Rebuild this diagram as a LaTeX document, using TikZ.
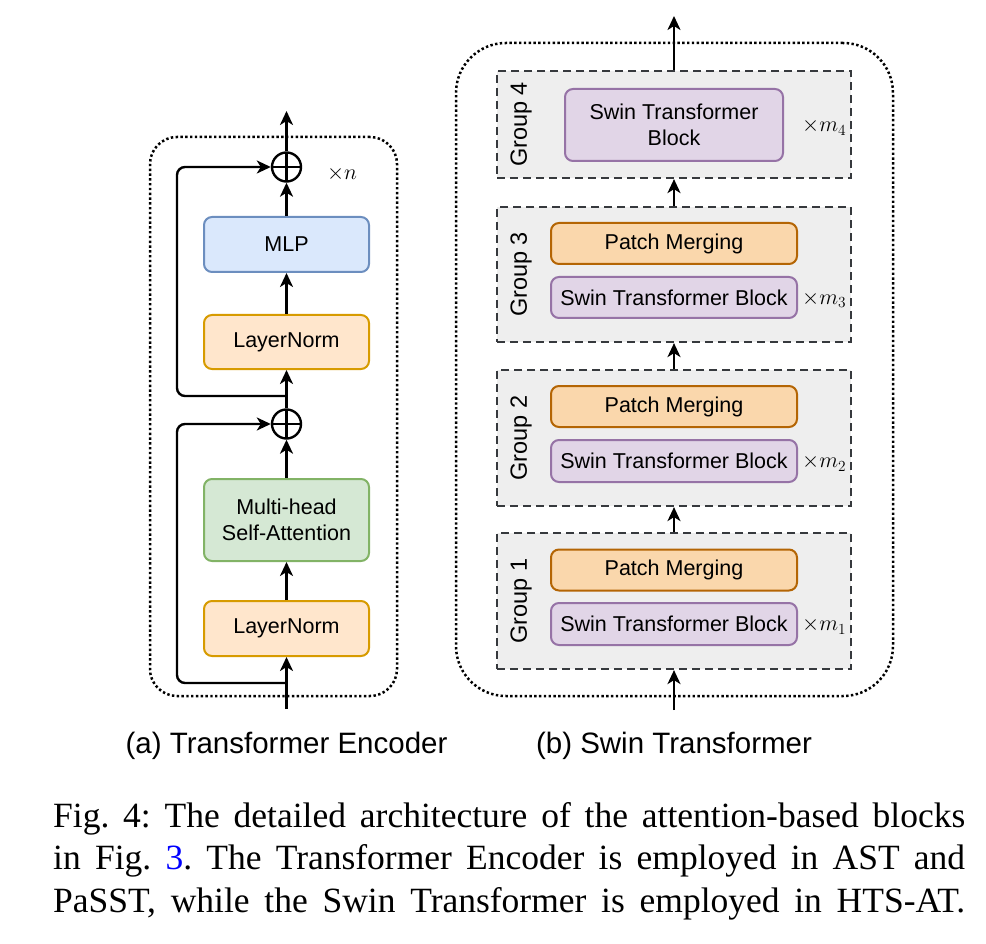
\RequirePackage{fix-cm}
\documentclass[tikz,border=0pt]{standalone}
\usepackage{fontspec}
\setmainfont{Liberation Serif}
\setsansfont{Liberation Sans}
\usetikzlibrary{arrows.meta}
\definecolor{mlpF}{HTML}{DAE8FC}\definecolor{mlpD}{HTML}{6C8EBF}
\definecolor{lnF}{HTML}{FFE6CC}\definecolor{lnD}{HTML}{D79B00}
\definecolor{mhF}{HTML}{D5E8D4}\definecolor{mhD}{HTML}{82B366}
\definecolor{pmF}{HTML}{FAD7AC}\definecolor{pmD}{HTML}{B46504}
\definecolor{sbF}{HTML}{E1D5E7}\definecolor{sbD}{HTML}{9673A6}
\definecolor{grpF}{HTML}{EEEEEE}\definecolor{grpD}{HTML}{36393D}
\definecolor{linkblue}{HTML}{0000FF}
\begin{document}
\frenchspacing
\begin{tikzpicture}[x=1pt,y=-1pt,
  blk/.style={draw, rounded corners=8pt, line width=2pt, align=center, inner sep=0pt,
    font=\sffamily\fontsize{21.5}{26.5}\selectfont},
  mlpbox/.style={blk, fill=mlpF, draw=mlpD},
  lnbox/.style={blk, fill=lnF, draw=lnD},
  mhbox/.style={blk, fill=mhF, draw=mhD},
  pmbox/.style={blk, fill=pmF, draw=pmD, minimum width=246pt, minimum height=41pt},
  sbbox/.style={blk, fill=sbF, draw=sbD},
  grp/.style={draw=grpD, fill=grpF, line width=2.2pt, dash pattern=on 8pt off 5pt, inner sep=0pt,
    minimum width=354pt},
  outer/.style={draw, line width=2.5pt, dash pattern=on 2.4pt off 2.4pt, inner sep=0pt},
  arr/.style={line width=2.4pt, -{Stealth[length=14pt,width=13pt,inset=4pt]}},
  plusc/.style={circle, draw, line width=2.4pt, minimum size=29pt, inner sep=0pt,
    path picture={\draw[line width=2.4pt] (path picture bounding box.north) -- (path picture bounding box.south)
      (path picture bounding box.west) -- (path picture bounding box.east);}},
  grplbl/.style={rotate=90, font=\sffamily\fontsize{23.5}{28}\selectfont, inner sep=0pt},
  mult/.style={anchor=west, inner sep=0pt, font=\fontsize{22}{26}\selectfont},
  subcap/.style={anchor=base, inner sep=0pt, font=\sffamily\fontsize{29.5}{34}\selectfont},
  figcap/.style={anchor=base west, inner sep=0pt, font=\fontsize{35.5}{43}\selectfont}
]
\useasboundingbox (0,0) rectangle (986,944);

% ---------- (a) Transformer Encoder ----------
\node[outer, rounded corners=27pt, minimum width=247pt, minimum height=559pt] (encbox) at (273.5,416.5) {};
\node[lnbox, minimum width=165pt, minimum height=55pt] (ln1) at (286.5,628.5) {LayerNorm};
\node[mhbox, minimum width=165pt, minimum height=82pt] (mh) at (286.5,520) {Multi-head\\Self-Attention};
\node[plusc] (p1) at (286.5,424) {};
\node[lnbox, minimum width=165pt, minimum height=54pt] (ln2) at (286.5,342) {LayerNorm};
\node[mlpbox, minimum width=165pt, minimum height=55pt] (mlp) at (286.5,244.5) {MLP};
\node[plusc] (p2) at (286.5,167) {};
\node[anchor=base, inner sep=0pt, font=\fontsize{22}{26}\selectfont] (xn) at (342,180) {$\times n$};

\coordinate (inA) at (286.5,709);
\coordinate (jA1) at (286.5,683);
\coordinate (jA2) at (286.5,396);
\coordinate (outA) at (286.5,111);

\draw[arr] (inA) -- (ln1.south);
\draw[arr] (ln1.north) -- (mh.south);
\draw[arr] (mh.north) -- (p1.south);
\draw[arr] (p1.north) -- (ln2.south);
\draw[arr] (ln2.north) -- (mlp.south);
\draw[arr] (mlp.north) -- (p2.south);
\draw[arr] (p2.north) -- (outA);
\draw[arr, rounded corners=8pt] (jA1) -- ++(-109.5,0) |- (p1.west);
\draw[arr, rounded corners=8pt] (jA2) -- ++(-109.5,0) |- (p2.west);

\node[subcap] (capa) at (286.5,753) {(a) Transformer Encoder};

% ---------- (b) Swin Transformer ----------
\node[outer, rounded corners=50pt, minimum width=437pt, minimum height=653pt] (swinbox) at (674.5,369.5) {};

\node[grp, minimum height=136pt] (g1) at (674,601) {};
\node[grp, minimum height=136pt] (g2) at (674,438) {};
\node[grp, minimum height=135pt] (g3) at (674,274.5) {};
\node[grp, minimum height=107pt] (g4) at (674,124.5) {};

\node[pmbox] (pm1) at (674,570) {Patch Merging};
\node[sbbox, minimum width=246pt, minimum height=42pt] (sb1) at (674,624) {Swin Transformer Block};
\node[pmbox] (pm2) at (674,406.5) {Patch Merging};
\node[sbbox, minimum width=246pt, minimum height=42pt] (sb2) at (674,461) {Swin Transformer Block};
\node[pmbox] (pm3) at (674,243.5) {Patch Merging};
\node[sbbox, minimum width=246pt, minimum height=41pt] (sb3) at (674,297.5) {Swin Transformer Block};
\node[sbbox, minimum width=218pt, minimum height=72pt] (sb4) at (674,125) {Swin Transformer\\Block};

\node[grplbl] (gl1) at (521,601) {Group 1};
\node[grplbl] (gl2) at (521,438) {Group 2};
\node[grplbl] (gl3) at (521,274.5) {Group 3};
\node[grplbl] (gl4) at (521,124.5) {Group 4};

\node[mult] (m1) at (802,626) {$\times m_1$};
\node[mult] (m2) at (802,463) {$\times m_2$};
\node[mult] (m3) at (802,299.5) {$\times m_3$};
\node[mult] (m4) at (802,127) {$\times m_4$};

\coordinate (inB) at (674,710);
\coordinate (outB) at (674,16);
\draw[arr] (inB) -- (g1.south);
\draw[arr] (g1.north) -- (g2.south);
\draw[arr] (g2.north) -- (g3.south);
\draw[arr] (g3.north) -- (g4.south);
\draw[arr] (g4.north) -- (outB);

\node[subcap] (capb) at (674,753) {(b) Swin Transformer};

% ---------- Caption ----------
\node[figcap] (c1) at (53,827) {\makebox[912pt][s]{Fig. 4: The detailed architecture of the attention-based blocks}};
\node[figcap] (c2) at (53,869) {\makebox[912pt][s]{in Fig. \textcolor{linkblue}{3}. The Transformer Encoder is employed in AST and}};
\node[figcap] (c3) at (53,912) {\makebox[912pt][s]{PaSST, while the Swin Transformer is employed in HTS-AT.}};
\end{tikzpicture}
\end{document}
